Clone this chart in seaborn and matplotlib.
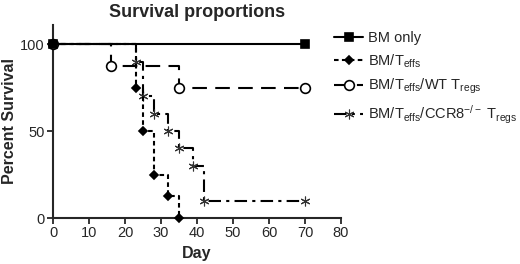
import pandas as pd
import seaborn as sns
import matplotlib
matplotlib.use('Agg')
import matplotlib.pyplot as plt

# Survival data (day, percent survival)
bm_day = [0, 70]
bm_pct = [100, 100]

teff_day = [0, 23, 25, 28, 32, 35]
teff_pct = [100, 75, 50, 25, 12.5, 0]

wt_day = [0, 16, 35, 70]
wt_pct = [100, 87.5, 75, 75]

ccr8_day = [0, 23, 25, 28, 32, 35, 39, 42, 70]
ccr8_pct = [100, 90, 70, 60, 50, 40, 30, 10, 10]

labels = ['BM only',
          r'BM/T$_{\mathregular{effs}}$',
          r'BM/T$_{\mathregular{effs}}$/WT T$_{\mathregular{regs}}$',
          r'BM/T$_{\mathregular{effs}}$/CCR8$^{\mathregular{-/-}}$ T$_{\mathregular{regs}}$']

sns.set_style('ticks')
plt.rcParams['font.family'] = ['Liberation Sans', 'DejaVu Sans']
plt.rcParams['mathtext.fontset'] = 'custom'
plt.rcParams['mathtext.rm'] = 'Liberation Sans'
plt.rcParams['mathtext.it'] = 'Liberation Sans:italic'
plt.rcParams['mathtext.bf'] = 'Liberation Sans:bold'

fig = plt.figure(figsize=(5.2, 2.64), dpi=100)
ax = fig.add_axes([53 / 520, 1 - 218 / 264, 288 / 520, 193 / 264])

# line style / marker per group
styles = [
    dict(linestyle='-', marker='s', markersize=6, mfc='black', zorder=6),
    dict(linestyle=(0, (2.2, 1.6)), marker='D', markersize=4.5, mfc='black', zorder=3),
    dict(linestyle=(0, (7, 4)), marker='o', markersize=7, mfc='white', zorder=4),
    dict(linestyle=(0, (6, 2.5, 1.5, 2.5)), marker=(6, 2, 0), markersize=7,
         mfc='#333333', markeredgewidth=0.8, mec='#333333', zorder=2),
]
series = [(bm_day, bm_pct), (teff_day, teff_pct), (wt_day, wt_pct), (ccr8_day, ccr8_pct)]

for (days, pct), lab, st in zip(series, labels, styles):
    df = pd.DataFrame({'day': days, 'pct': pct})
    st = dict(st)
    mew = st.pop('markeredgewidth', 1.2)
    mec = st.pop('mec', 'black')
    sns.lineplot(data=df, x='day', y='pct', ax=ax, estimator=None, sort=False,
                 drawstyle='steps-post', color='black', linewidth=1.5,
                 mec=mec, markeredgewidth=mew, clip_on=False, label=lab, **st)

ax.set_xlim(0, 80)
ax.set_ylim(0, 111)
ax.set_xticks(range(0, 81, 10))
ax.set_yticks([0, 50, 100])
ax.tick_params(labelsize=10.5, width=1.3, length=4, pad=2)
for s in ['left', 'bottom']:
    ax.spines[s].set_linewidth(1.5)
sns.despine(ax=ax)

ax.set_xlabel('Day', fontsize=11.5, fontweight='bold', labelpad=4)
ax.set_ylabel('Percent Survival', fontsize=11.5, fontweight='bold', labelpad=2)
ax.set_title('Survival proportions', fontsize=13, fontweight='bold', pad=6)

h, l = ax.get_legend_handles_labels()
ax.get_legend().remove()
fig.legend(h, l, loc='upper left', bbox_to_anchor=(334 / 520, 1 - 31 / 264),
           frameon=False, fontsize=10.5, handlelength=2.0, handletextpad=0.3,
           labelspacing=0.5, borderpad=0, borderaxespad=0)

fig.savefig('out.png', dpi=100)
